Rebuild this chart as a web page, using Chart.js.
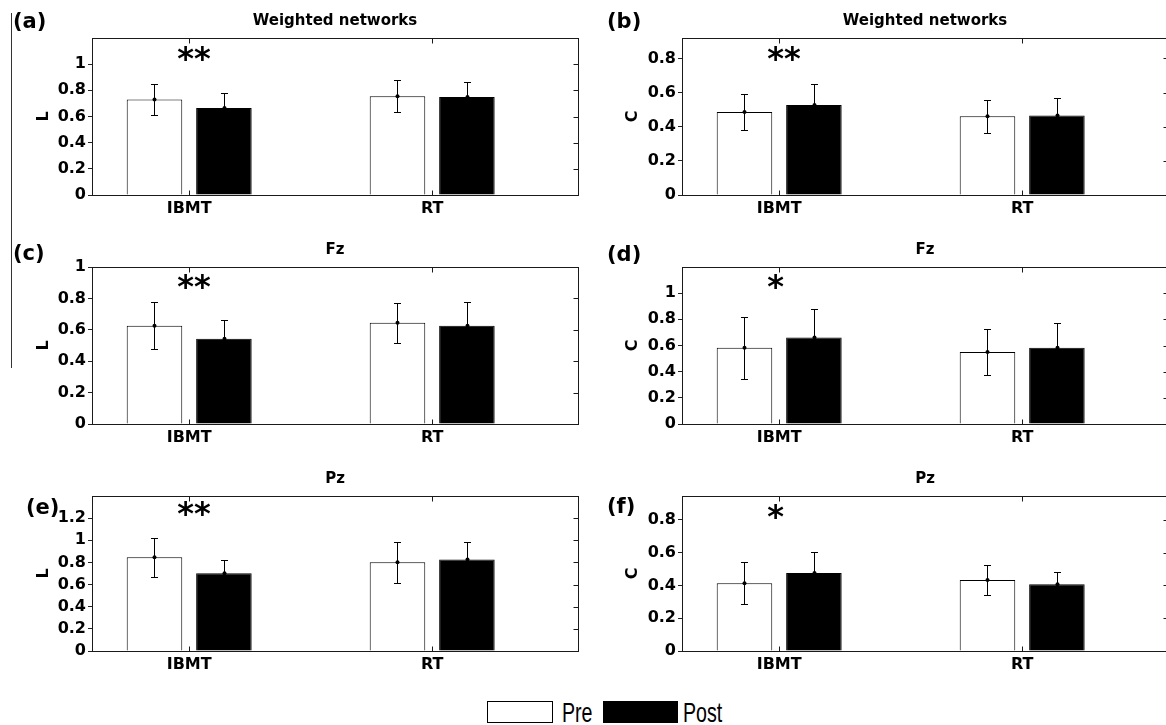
<!DOCTYPE html>
<html><head><meta charset="utf-8">
<script src="https://cdn.jsdelivr.net/npm/chart.js@4.4.1/dist/chart.umd.min.js"></script>
<style>
html,body{margin:0;padding:0;background:#fff;}
body{width:1166px;height:725px;overflow:hidden;position:relative;}
canvas{position:absolute;}
.lg{position:absolute;box-sizing:border-box;border:1px solid #000;height:22px;top:701px;}
.lt{position:absolute;font-family:'Liberation Sans',Arial,sans-serif;font-size:28px;line-height:28px;top:699px;color:#000;white-space:nowrap;transform:scaleX(0.7);transform-origin:0 0;}
.art{position:absolute;left:11px;top:13px;width:0;height:355px;border-left:1px solid #333;}
</style></head><body>
<div class="art"></div>
<canvas id="p0" width="583" height="230" style="left:0;top:0"></canvas>
<canvas id="p1" width="600" height="230" style="left:583px;top:0"></canvas>
<canvas id="p2" width="583" height="230" style="left:0;top:229px"></canvas>
<canvas id="p3" width="600" height="230" style="left:583px;top:229px"></canvas>
<canvas id="p4" width="583" height="230" style="left:0;top:458px"></canvas>
<canvas id="p5" width="600" height="230" style="left:583px;top:458px"></canvas>
<div id="legend"></div>
<script>
// ---------- data ----------
const categories = ['IBMT', 'RT'];
const seriesNames = ['Pre', 'Post'];
const panelLetters = ['(a)', '(b)', '(c)', '(d)', '(e)', '(f)'];
const panelTitles = ['Weighted networks', 'Weighted networks', 'Fz', 'Fz', 'Pz', 'Pz'];
const yLabels = ['L', 'C', 'L', 'C', 'L', 'C'];
const yMax = [1.2, 0.92, 1.0, 1.2, 1.4, 0.945];
const yTickMax = [1, 0.8, 1, 1, 1.2, 0.8];
const stars = ['**', '**', '**', '*', '**', '*'];

// (a) L, weighted networks
const preA = [0.73, 0.755], preSdA = [0.12, 0.124];
const postA = [0.665, 0.75], postSdA = [0.115, 0.112];
// (b) C, weighted networks
const preB = [0.486, 0.461], preSdB = [0.107, 0.098];
const postB = [0.528, 0.466], postSdB = [0.125, 0.1];
// (c) L, Fz
const preC = [0.626, 0.645], preSdC = [0.149, 0.127];
const postC = [0.543, 0.626], postSdC = [0.117, 0.151];
// (d) C, Fz
const preD = [0.583, 0.55], preSdD = [0.236, 0.173];
const postD = [0.662, 0.583], postSdD = [0.216, 0.19];
// (e) L, Pz
const preE = [0.847, 0.802], preSdE = [0.175, 0.186];
const postE = [0.703, 0.826], postSdE = [0.12, 0.162];
// (f) C, Pz
const preF = [0.413, 0.433], preSdF = [0.128, 0.092];
const postF = [0.476, 0.407], postSdF = [0.13, 0.075];

const preVals = [preA, preB, preC, preD, preE, preF];
const preSds = [preSdA, preSdB, preSdC, preSdD, preSdE, preSdF];
const postVals = [postA, postB, postC, postD, postE, postF];
const postSds = [postSdA, postSdB, postSdC, postSdD, postSdE, postSdF];

// ---------- layout ----------
const FONT = 'DejaVu Sans';
const seriesFill = ['#ffffff', '#000000'];
const layouts = [
  {yw: 92, pr: 5,  xh: 35, tp: 34, lx: 13, ly: 23, sy: 15.5},
  {yw: 99, pr: 15, xh: 35, tp: 40, lx: 24, ly: 23, sy: 15.5},
  {yw: 92, pr: 5,  xh: 35, tp: 34, lx: 13, ly: 26, sy: 14.5},
  {yw: 99, pr: 15, xh: 35, tp: 40, lx: 24, ly: 27, sy: 14.5},
  {yw: 92, pr: 5,  xh: 37, tp: 34, lx: 26, ly: 51, sy: 12.5},
  {yw: 99, pr: 15, xh: 37, tp: 40, lx: 24, ly: 50, sy: 15}
];

const deco = {
  id: 'deco',
  afterDatasetsDraw(chart) {
    const {ctx, chartArea: a, scales: {x, y}} = chart;
    ctx.save();
    ctx.strokeStyle = '#000'; ctx.fillStyle = '#000'; ctx.lineWidth = 1;
    chart.data.datasets.forEach((ds, di) => {
      const meta = chart.getDatasetMeta(di);
      meta.data.forEach((bar, j) => {
        const v = ds.data[j].y, e = ds.sd[j];
        const cx = Math.round(bar.x) + 0.5;
        const t = Math.round(y.getPixelForValue(v + e)) + 0.5;
        const b = Math.round(y.getPixelForValue(v - e)) + 0.5;
        const m = y.getPixelForValue(v);
        ctx.beginPath();
        ctx.moveTo(cx, t); ctx.lineTo(cx, b);
        ctx.moveTo(cx - 3.5, t); ctx.lineTo(cx + 3.5, t);
        ctx.moveTo(cx - 3.5, b); ctx.lineTo(cx + 3.5, b);
        ctx.stroke();
        ctx.beginPath(); ctx.arc(cx, m, 2, 0, Math.PI * 2); ctx.fill();
      });
    });
    ctx.strokeStyle = '#1a1a1a';
    const L = Math.round(a.left) + 0.5, T = Math.round(a.top) + 0.5;
    const R = Math.round(a.right) + 0.5, B = Math.round(a.bottom) + 0.5;
    ctx.strokeRect(L, T, R - L, B - T);
    ctx.beginPath();
    x.ticks.forEach(tk => {
      const px = Math.round(x.getPixelForValue(tk.value)) + 0.5;
      ctx.moveTo(px, T); ctx.lineTo(px, T + 5);
      ctx.moveTo(px, B); ctx.lineTo(px, B - 5);
    });
    y.ticks.forEach(tk => {
      const py = Math.round(y.getPixelForValue(tk.value)) + 0.5;
      ctx.moveTo(R, py); ctx.lineTo(R - 5, py);
    });
    ctx.stroke();
    ctx.restore();
  },
  afterDraw(chart) {
    const {ctx, chartArea: a, scales: {x}} = chart;
    const o = chart.options.plugins.deco;
    ctx.save();
    ctx.fillStyle = '#000';
    ctx.font = 'bold 15px "' + FONT + '"';
    ctx.textAlign = 'center'; ctx.textBaseline = 'middle';
    ctx.fillText(o.title, (a.left + a.right) / 2, a.top - 17);
    ctx.font = 'bold 21px "' + FONT + '"';
    ctx.textAlign = 'left'; ctx.textBaseline = 'middle';
    ctx.fillText(o.letter, o.lx, o.ly);
    ctx.font = 'bold 32px "' + FONT + '"';
    ctx.textBaseline = 'alphabetic';
    const m = ctx.measureText(o.star);
    const mid = (m.actualBoundingBoxAscent - m.actualBoundingBoxDescent) / 2;
    ctx.fillText(o.star, x.getPixelForValue(1) - 12, a.top + o.sy + mid);
    ctx.restore();
  }
};

Chart.defaults.font.family = FONT;
Chart.defaults.color = '#000';

for (let k = 0; k < 6; k++) {
  const Lk = layouts[k];
  const mk = (vals) => vals.map((v, i) => ({x: i + 1, y: v}));
  new Chart(document.getElementById('p' + k), {
    type: 'bar',
    data: {
      datasets: [
        {label: seriesNames[0], data: mk(preVals[k]), sd: preSds[k], backgroundColor: seriesFill[0],
         borderColor: '#000', borderWidth: 1, categoryPercentage: 0.5714, barPercentage: 0.8},
        {label: seriesNames[1], data: mk(postVals[k]), sd: postSds[k], backgroundColor: seriesFill[1],
         borderColor: '#000', borderWidth: 1, categoryPercentage: 0.5714, barPercentage: 0.8}
      ]
    },
    options: {
      responsive: false, animation: false, devicePixelRatio: 1,
      layout: {padding: {top: 38, left: 0, right: Lk.pr, bottom: 0}},
      plugins: {
        legend: {display: false}, tooltip: {enabled: false},
        deco: {title: panelTitles[k], letter: panelLetters[k], star: stars[k], lx: Lk.lx, ly: Lk.ly, sy: Lk.sy}
      },
      scales: {
        x: {
          type: 'linear', min: 0.6, max: 2.6, offset: false, bounds: 'data',
          afterBuildTicks: s => { s.ticks = categories.map((c, i) => ({value: i + 1})); },
          afterFit: s => { s.height = Lk.xh; },
          ticks: {callback: v => categories[Math.round(v) - 1] || '', autoSkip: false, maxRotation: 0,
                  padding: 4, color: '#000', font: {family: FONT, weight: 'bold', size: 16}},
          grid: {display: false, drawTicks: false, offset: false}, border: {display: false}
        },
        y: {
          min: 0, max: yMax[k],
          afterBuildTicks: s => { s.ticks = s.ticks.filter(t => t.value <= yTickMax[k] + 1e-6); },
          afterFit: s => { s.width = Lk.yw; },
          ticks: {stepSize: 0.2, padding: 2, color: '#000', font: {family: FONT, weight: 'bold', size: 16},
                  callback: v => String(+(+v).toFixed(2))},
          grid: {drawOnChartArea: false, drawTicks: true, tickLength: 4, color: '#222', lineWidth: 1},
          border: {display: false},
          title: {display: true, text: yLabels[k], color: '#000', font: {family: FONT, weight: 'bold', size: 16},
                  padding: {top: Lk.tp, bottom: 0}}
        }
      }
    },
    plugins: [deco]
  });
}

// legend
const legendPos = [{box: 487, w: 66, txt: 562}, {box: 603, w: 75, txt: 683}];
const lg = document.getElementById('legend');
seriesNames.forEach((n, i) => {
  const b = document.createElement('div');
  b.className = 'lg';
  b.style.left = legendPos[i].box + 'px'; b.style.width = legendPos[i].w + 'px';
  b.style.background = seriesFill[i];
  lg.appendChild(b);
  const t = document.createElement('span');
  t.className = 'lt'; t.style.left = legendPos[i].txt + 'px'; t.textContent = n;
  lg.appendChild(t);
});
</script>
</body></html>
